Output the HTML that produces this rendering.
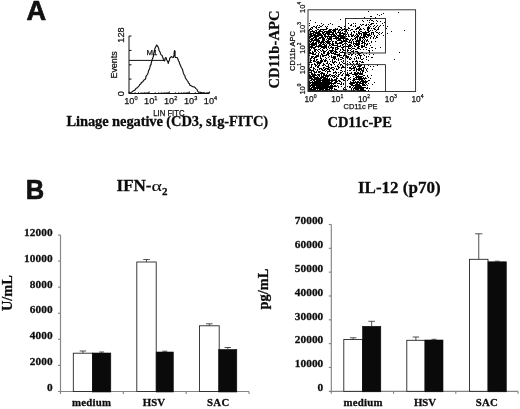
<!DOCTYPE html>
<html lang="en"><head><meta charset="utf-8"><title>Figure</title>
<style>html,body{margin:0;padding:0;background:#fff}body{width:520px;height:409px;overflow:hidden}svg{display:block}.s{font-family:"Liberation Serif",serif;font-weight:bold;fill:#0c0c0c;stroke:#0c0c0c;stroke-width:.28}.a{font-family:"Liberation Sans",sans-serif;fill:#111}.b{stroke:#111;stroke-width:.25}</style></head><body>
<svg width="520" height="409" viewBox="0 0 520 409">
<rect width="520" height="409" fill="#fff"/>
<text class="a" x="26.4" y="20.3" font-size="27.2" font-weight="bold" stroke="#111" stroke-width=".7">A</text>
<text class="a" transform="translate(25.7 199.1) scale(.9 1)" font-size="28.4" font-weight="bold" stroke="#111" stroke-width=".7">B</text>
<g stroke="#111" stroke-width="1" fill="none">
<path d="M129 36V93.5H209.3"/>
<path d="M129 36.0h2.5"/>
<path d="M129 50.4h2.5"/>
<path d="M129 64.8h2.5"/>
<path d="M129 79.1h2.5"/>
<path d="M129 93.5h2.5"/>
<path d="M129.0 93.5v-2"/>
<path d="M149.1 93.5v-2"/>
<path d="M169.2 93.5v-2"/>
<path d="M189.3 93.5v-2"/>
<path d="M209.4 93.5v-2"/>
<path d="M135.1 93.5v-1.5M138.6 93.5v-1.5M141.1 93.5v-1.5M143.0 93.5v-1.5M144.6 93.5v-1.5M146.0 93.5v-1.5M147.2 93.5v-1.5M148.2 93.5v-1.5M155.2 93.5v-1.5M158.7 93.5v-1.5M161.2 93.5v-1.5M163.1 93.5v-1.5M164.7 93.5v-1.5M166.1 93.5v-1.5M167.3 93.5v-1.5M168.3 93.5v-1.5M175.3 93.5v-1.5M178.8 93.5v-1.5M181.3 93.5v-1.5M183.2 93.5v-1.5M184.8 93.5v-1.5M186.2 93.5v-1.5M187.4 93.5v-1.5M188.4 93.5v-1.5M195.4 93.5v-1.5M198.9 93.5v-1.5M201.4 93.5v-1.5M203.3 93.5v-1.5M204.9 93.5v-1.5M206.3 93.5v-1.5M207.5 93.5v-1.5M208.5 93.5v-1.5" stroke-width=".7"/>
<path d="M129 60.4H164"/>
<path stroke-linejoin="round" stroke-width="1.15" d="M128.8 93.1 L129.7 92.8 L130.8 92.6 L131.9 92.1 L133.3 90.8 L134.5 90.4 L135.0 89.9 L136.1 88.3 L137.5 87.7 L138.0 86.9 L139.1 85.8 L139.8 84.4 L140.7 84.1 L141.4 82.6 L142.6 81.9 L143.9 80.1 L144.9 79.6 L145.7 78.4 L145.9 76.5 L146.6 75.7 L147.3 74.5 L147.6 73.9 L148.1 72.9 L148.4 71.3 L148.7 70.6 L149.2 69.6 L149.9 67.6 L150.1 67.0 L150.2 65.5 L151.1 64.5 L151.2 63.2 L151.5 62.0 L151.8 61.0 L152.1 59.7 L152.6 58.6 L153.0 57.3 L153.5 56.0 L153.5 54.0 L154.0 52.4 L154.4 51.9 L154.7 50.2 L154.8 48.8 L155.5 47.3 L156.1 46.4 L156.5 45.0 L157.2 45.6 L158.2 47.1 L158.9 49.1 L158.9 50.3 L159.6 51.4 L160.1 52.2 L160.6 54.0 L161.3 54.9 L162.1 55.5 L162.5 56.6 L163.0 58.0 L163.4 59.2 L164.2 60.6 L164.4 61.0 L164.9 60.3 L165.1 58.2 L165.7 57.5 L166.3 58.1 L166.6 59.7 L167.4 61.0 L167.9 61.9 L168.3 63.5 L168.3 62.7 L168.8 61.5 L169.6 59.5 L169.6 58.4 L170.5 57.5 L171.4 56.6 L172.5 57.2 L173.4 57.5 L173.7 56.2 L174.2 54.7 L174.1 53.6 L174.2 51.7 L174.7 50.6 L175.2 52.0 L175.0 52.8 L175.1 54.8 L175.0 56.2 L175.5 57.5 L176.9 57.5 L177.6 58.2 L178.1 59.8 L178.6 61.0 L179.2 61.9 L179.6 63.4 L179.6 63.7 L180.4 65.3 L181.1 66.9 L181.3 67.5 L182.1 68.7 L182.6 69.8 L182.9 71.1 L183.3 72.7 L183.8 73.9 L184.1 74.9 L184.9 75.6 L185.2 77.4 L185.6 78.3 L186.3 79.2 L187.3 80.8 L188.1 81.6 L188.4 82.9 L189.4 83.7 L189.9 85.2 L191.1 85.7 L192.5 86.6 L194.2 86.9 L195.3 87.7 L195.9 88.6 L197.0 89.4 L197.6 91.1 L198.5 92.1 L200.0 92.3 L200.6 92.3 L202.0 93.0 L203.5 92.7 L204.9 93.2"/>
</g>
<text class="a b" font-size="9.2" transform="translate(124.4 42.7) rotate(-90)">128</text>
<text class="a b" font-size="9.2" transform="translate(124.4 96.3) rotate(-90)">0</text>
<text class="a b" font-size="8.9" transform="translate(117.3 78.5) rotate(-90)">Events</text>
<text class="a b" font-size="7.8" x="146.4" y="55.2">M1</text>
<text class="a b" font-size="9.2" x="124.2" y="103.5">10<tspan font-size="5.6" dy="-3.9">0</tspan></text>
<text class="a b" font-size="9.2" x="144.1" y="103.5">10<tspan font-size="5.6" dy="-3.9">1</tspan></text>
<text class="a b" font-size="9.2" x="164.0" y="103.5">10<tspan font-size="5.6" dy="-3.9">2</tspan></text>
<text class="a b" font-size="9.2" x="183.9" y="103.5">10<tspan font-size="5.6" dy="-3.9">3</tspan></text>
<text class="a b" font-size="9.2" x="203.8" y="103.5">10<tspan font-size="5.6" dy="-3.9">4</tspan></text>
<text class="a b" font-size="8.4" x="153.2" y="115.6" textLength="31.4" lengthAdjust="spacingAndGlyphs">LIN FITC</text>
<text class="s" font-size="14.5" x="66.5" y="126.4" textLength="201.6" lengthAdjust="spacing">Linage negative (CD3, sIg-FITC)</text>
<filter id="bl" x="0" y="0" width="1" height="1" filterUnits="objectBoundingBox"><feGaussianBlur stdDeviation="0.5"/></filter>
<path d="M309 23.5h1M309 25.5h1M309 29.5h1M309 30.5h1M309 34.5h1M309 36.5h1M309 37.5h1M309 38.5h1M309 40.5h1M309 41.5h1M309 43.5h1M309 44.5h1M309 45.5h1M309 46.5h1M309 47.5h1M309 48.5h1M309 49.5h1M309 50.5h1M309 51.5h1M309 52.5h1M309 53.5h1M309 55.5h1M309 62.5h1M309 64.5h1M309 68.5h1M309 69.5h1M309 70.5h1M309 72.5h1M309 74.5h1M309 75.5h1M309 76.5h1M309 77.5h1M309 78.5h1M309 81.5h1M309 82.5h1M309 83.5h1M309 84.5h1M309 85.5h1M309 86.5h1M309 87.5h1M309 88.5h1M309 89.5h1M309 90.5h1M310 20.5h1M310 28.5h1M310 29.5h1M310 31.5h1M310 32.5h1M310 33.5h1M310 34.5h1M310 35.5h1M310 36.5h1M310 37.5h1M310 39.5h1M310 41.5h1M310 42.5h1M310 44.5h1M310 46.5h1M310 47.5h1M310 49.5h1M310 50.5h1M310 52.5h1M310 53.5h1M310 58.5h1M310 59.5h1M310 60.5h1M310 61.5h1M310 62.5h1M310 67.5h1M310 69.5h1M310 70.5h1M310 72.5h1M310 75.5h1M310 76.5h1M310 77.5h1M310 78.5h1M310 80.5h1M310 82.5h1M310 83.5h1M310 85.5h1M310 86.5h1M310 88.5h1M310 89.5h1M310 90.5h1M311 27.5h1M311 29.5h1M311 31.5h1M311 33.5h1M311 34.5h1M311 35.5h1M311 36.5h1M311 38.5h1M311 39.5h1M311 40.5h1M311 41.5h1M311 43.5h1M311 44.5h1M311 45.5h1M311 46.5h1M311 47.5h1M311 48.5h1M311 53.5h1M311 56.5h1M311 57.5h1M311 58.5h1M311 60.5h1M311 62.5h1M311 64.5h1M311 65.5h1M311 66.5h1M311 67.5h1M311 70.5h1M311 71.5h1M311 72.5h1M311 73.5h1M311 74.5h1M311 76.5h1M311 77.5h1M311 78.5h1M311 79.5h1M311 80.5h1M311 82.5h1M311 84.5h1M311 85.5h1M311 87.5h1M311 88.5h1M311 89.5h1M311 90.5h1M312 27.5h1M312 28.5h1M312 30.5h1M312 31.5h1M312 33.5h1M312 35.5h1M312 36.5h1M312 38.5h1M312 39.5h1M312 40.5h1M312 42.5h1M312 43.5h1M312 44.5h1M312 45.5h1M312 46.5h1M312 47.5h1M312 51.5h1M312 52.5h1M312 53.5h1M312 54.5h1M312 56.5h1M312 57.5h1M312 64.5h1M312 70.5h1M312 73.5h1M312 74.5h1M312 75.5h1M312 76.5h1M312 78.5h1M312 79.5h1M312 81.5h1M312 82.5h1M312 83.5h1M312 84.5h1M312 85.5h1M312 86.5h1M312 87.5h1M312 89.5h1M312 90.5h1M313 26.5h1M313 31.5h1M313 32.5h1M313 33.5h1M313 34.5h1M313 35.5h1M313 37.5h1M313 38.5h1M313 40.5h1M313 41.5h1M313 42.5h1M313 43.5h1M313 44.5h1M313 45.5h1M313 47.5h1M313 48.5h1M313 52.5h1M313 53.5h1M313 54.5h1M313 56.5h1M313 58.5h1M313 60.5h1M313 61.5h1M313 67.5h1M313 68.5h1M313 69.5h1M313 70.5h1M313 71.5h1M313 74.5h1M313 75.5h1M313 76.5h1M313 77.5h1M313 79.5h1M313 80.5h1M313 82.5h1M313 83.5h1M313 84.5h1M313 85.5h1M313 86.5h1M313 87.5h1M313 88.5h1M313 89.5h1M313 90.5h1M314 26.5h1M314 31.5h1M314 32.5h1M314 34.5h1M314 35.5h1M314 36.5h1M314 37.5h1M314 39.5h1M314 40.5h1M314 43.5h1M314 44.5h1M314 45.5h1M314 47.5h1M314 48.5h1M314 49.5h1M314 50.5h1M314 51.5h1M314 54.5h1M314 57.5h1M314 58.5h1M314 59.5h1M314 60.5h1M314 61.5h1M314 63.5h1M314 64.5h1M314 68.5h1M314 71.5h1M314 72.5h1M314 73.5h1M314 74.5h1M314 75.5h1M314 76.5h1M314 77.5h1M314 78.5h1M314 79.5h1M314 80.5h1M314 81.5h1M314 82.5h1M314 83.5h1M314 84.5h1M314 85.5h1M314 86.5h1M314 87.5h1M314 88.5h1M314 89.5h1M314 90.5h1M315 22.5h1M315 27.5h1M315 30.5h1M315 32.5h1M315 33.5h1M315 34.5h1M315 35.5h1M315 36.5h1M315 37.5h1M315 38.5h1M315 39.5h1M315 40.5h1M315 42.5h1M315 43.5h1M315 44.5h1M315 46.5h1M315 47.5h1M315 49.5h1M315 50.5h1M315 51.5h1M315 53.5h1M315 54.5h1M315 56.5h1M315 57.5h1M315 61.5h1M315 64.5h1M315 65.5h1M315 66.5h1M315 69.5h1M315 72.5h1M315 74.5h1M315 75.5h1M315 77.5h1M315 78.5h1M315 79.5h1M315 81.5h1M315 82.5h1M315 83.5h1M315 84.5h1M315 85.5h1M315 87.5h1M315 88.5h1M315 89.5h1M315 90.5h1M316 26.5h1M316 27.5h1M316 28.5h1M316 30.5h1M316 31.5h1M316 32.5h1M316 33.5h1M316 35.5h1M316 36.5h1M316 37.5h1M316 38.5h1M316 39.5h1M316 40.5h1M316 41.5h1M316 42.5h1M316 43.5h1M316 44.5h1M316 45.5h1M316 46.5h1M316 49.5h1M316 52.5h1M316 55.5h1M316 56.5h1M316 57.5h1M316 59.5h1M316 60.5h1M316 62.5h1M316 65.5h1M316 71.5h1M316 72.5h1M316 75.5h1M316 77.5h1M316 78.5h1M316 79.5h1M316 80.5h1M316 81.5h1M316 82.5h1M316 83.5h1M316 84.5h1M316 85.5h1M316 86.5h1M316 87.5h1M316 88.5h1M316 90.5h1M317 25.5h1M317 29.5h1M317 32.5h1M317 33.5h1M317 34.5h1M317 35.5h1M317 36.5h1M317 39.5h1M317 40.5h1M317 41.5h1M317 46.5h1M317 50.5h1M317 55.5h1M317 56.5h1M317 59.5h1M317 61.5h1M317 62.5h1M317 63.5h1M317 64.5h1M317 66.5h1M317 67.5h1M317 69.5h1M317 70.5h1M317 74.5h1M317 76.5h1M317 77.5h1M317 78.5h1M317 79.5h1M317 80.5h1M317 81.5h1M317 82.5h1M317 83.5h1M317 84.5h1M317 85.5h1M317 86.5h1M317 87.5h1M317 88.5h1M317 89.5h1M317 90.5h1M318 27.5h1M318 29.5h1M318 31.5h1M318 32.5h1M318 33.5h1M318 34.5h1M318 35.5h1M318 36.5h1M318 38.5h1M318 39.5h1M318 40.5h1M318 41.5h1M318 42.5h1M318 43.5h1M318 45.5h1M318 46.5h1M318 47.5h1M318 49.5h1M318 51.5h1M318 53.5h1M318 54.5h1M318 55.5h1M318 56.5h1M318 61.5h1M318 62.5h1M318 63.5h1M318 65.5h1M318 66.5h1M318 67.5h1M318 71.5h1M318 72.5h1M318 74.5h1M318 75.5h1M318 77.5h1M318 78.5h1M318 79.5h1M318 80.5h1M318 81.5h1M318 82.5h1M318 83.5h1M318 84.5h1M318 85.5h1M318 86.5h1M318 87.5h1M318 88.5h1M318 90.5h1M319 25.5h1M319 27.5h1M319 30.5h1M319 31.5h1M319 32.5h1M319 33.5h1M319 34.5h1M319 35.5h1M319 37.5h1M319 38.5h1M319 40.5h1M319 41.5h1M319 42.5h1M319 44.5h1M319 45.5h1M319 46.5h1M319 49.5h1M319 52.5h1M319 62.5h1M319 63.5h1M319 64.5h1M319 65.5h1M319 68.5h1M319 69.5h1M319 71.5h1M319 72.5h1M319 74.5h1M319 75.5h1M319 76.5h1M319 78.5h1M319 79.5h1M319 80.5h1M319 81.5h1M319 82.5h1M319 83.5h1M319 84.5h1M319 85.5h1M319 86.5h1M319 87.5h1M319 88.5h1M319 89.5h1M319 90.5h1M320 26.5h1M320 29.5h1M320 30.5h1M320 31.5h1M320 33.5h1M320 34.5h1M320 35.5h1M320 37.5h1M320 38.5h1M320 42.5h1M320 43.5h1M320 44.5h1M320 45.5h1M320 46.5h1M320 48.5h1M320 50.5h1M320 55.5h1M320 56.5h1M320 57.5h1M320 58.5h1M320 60.5h1M320 61.5h1M320 62.5h1M320 63.5h1M320 68.5h1M320 71.5h1M320 73.5h1M320 77.5h1M320 78.5h1M320 79.5h1M320 80.5h1M320 81.5h1M320 82.5h1M320 83.5h1M320 84.5h1M320 85.5h1M320 86.5h1M320 87.5h1M320 88.5h1M320 89.5h1M320 90.5h1M321 23.5h1M321 26.5h1M321 29.5h1M321 31.5h1M321 34.5h1M321 35.5h1M321 36.5h1M321 37.5h1M321 41.5h1M321 42.5h1M321 43.5h1M321 45.5h1M321 46.5h1M321 47.5h1M321 51.5h1M321 53.5h1M321 54.5h1M321 58.5h1M321 59.5h1M321 60.5h1M321 61.5h1M321 62.5h1M321 68.5h1M321 69.5h1M321 72.5h1M321 73.5h1M321 74.5h1M321 75.5h1M321 76.5h1M321 77.5h1M321 78.5h1M321 80.5h1M321 82.5h1M321 83.5h1M321 84.5h1M321 85.5h1M321 86.5h1M321 87.5h1M321 88.5h1M321 89.5h1M322 25.5h1M322 29.5h1M322 31.5h1M322 32.5h1M322 33.5h1M322 35.5h1M322 36.5h1M322 37.5h1M322 38.5h1M322 39.5h1M322 40.5h1M322 41.5h1M322 42.5h1M322 44.5h1M322 46.5h1M322 47.5h1M322 49.5h1M322 50.5h1M322 54.5h1M322 55.5h1M322 56.5h1M322 60.5h1M322 61.5h1M322 65.5h1M322 69.5h1M322 70.5h1M322 72.5h1M322 73.5h1M322 76.5h1M322 77.5h1M322 79.5h1M322 80.5h1M322 81.5h1M322 82.5h1M322 83.5h1M322 84.5h1M322 85.5h1M322 86.5h1M322 87.5h1M322 88.5h1M322 89.5h1M322 90.5h1M323 24.5h1M323 29.5h1M323 30.5h1M323 32.5h1M323 33.5h1M323 34.5h1M323 37.5h1M323 38.5h1M323 39.5h1M323 40.5h1M323 41.5h1M323 42.5h1M323 43.5h1M323 44.5h1M323 46.5h1M323 47.5h1M323 48.5h1M323 50.5h1M323 51.5h1M323 52.5h1M323 53.5h1M323 55.5h1M323 56.5h1M323 59.5h1M323 63.5h1M323 64.5h1M323 65.5h1M323 67.5h1M323 68.5h1M323 70.5h1M323 73.5h1M323 74.5h1M323 75.5h1M323 76.5h1M323 77.5h1M323 78.5h1M323 79.5h1M323 80.5h1M323 81.5h1M323 82.5h1M323 83.5h1M323 84.5h1M323 85.5h1M323 86.5h1M323 87.5h1M323 88.5h1M323 89.5h1M323 90.5h1M324 29.5h1M324 31.5h1M324 32.5h1M324 34.5h1M324 35.5h1M324 36.5h1M324 38.5h1M324 39.5h1M324 40.5h1M324 42.5h1M324 44.5h1M324 45.5h1M324 46.5h1M324 47.5h1M324 48.5h1M324 51.5h1M324 52.5h1M324 53.5h1M324 55.5h1M324 60.5h1M324 61.5h1M324 64.5h1M324 67.5h1M324 69.5h1M324 70.5h1M324 73.5h1M324 74.5h1M324 75.5h1M324 77.5h1M324 78.5h1M324 79.5h1M324 80.5h1M324 81.5h1M324 82.5h1M324 83.5h1M324 84.5h1M324 85.5h1M324 86.5h1M324 87.5h1M324 88.5h1M324 90.5h1M325 26.5h1M325 29.5h1M325 31.5h1M325 33.5h1M325 34.5h1M325 35.5h1M325 36.5h1M325 37.5h1M325 41.5h1M325 43.5h1M325 45.5h1M325 46.5h1M325 47.5h1M325 51.5h1M325 55.5h1M325 57.5h1M325 59.5h1M325 60.5h1M325 61.5h1M325 65.5h1M325 68.5h1M325 69.5h1M325 71.5h1M325 75.5h1M325 76.5h1M325 77.5h1M325 78.5h1M325 79.5h1M325 80.5h1M325 81.5h1M325 82.5h1M325 83.5h1M325 84.5h1M325 85.5h1M325 86.5h1M325 87.5h1M325 88.5h1M325 89.5h1M325 90.5h1M326 27.5h1M326 28.5h1M326 29.5h1M326 31.5h1M326 32.5h1M326 33.5h1M326 36.5h1M326 39.5h1M326 41.5h1M326 42.5h1M326 44.5h1M326 45.5h1M326 46.5h1M326 47.5h1M326 48.5h1M326 50.5h1M326 54.5h1M326 55.5h1M326 58.5h1M326 60.5h1M326 63.5h1M326 66.5h1M326 68.5h1M326 70.5h1M326 74.5h1M326 75.5h1M326 76.5h1M326 78.5h1M326 79.5h1M326 80.5h1M326 81.5h1M326 82.5h1M326 83.5h1M326 84.5h1M326 85.5h1M326 86.5h1M326 87.5h1M326 88.5h1M326 89.5h1M326 90.5h1M327 26.5h1M327 28.5h1M327 31.5h1M327 32.5h1M327 33.5h1M327 34.5h1M327 36.5h1M327 37.5h1M327 38.5h1M327 40.5h1M327 41.5h1M327 42.5h1M327 43.5h1M327 49.5h1M327 52.5h1M327 53.5h1M327 54.5h1M327 61.5h1M327 62.5h1M327 63.5h1M327 66.5h1M327 68.5h1M327 69.5h1M327 71.5h1M327 72.5h1M327 73.5h1M327 75.5h1M327 76.5h1M327 77.5h1M327 78.5h1M327 79.5h1M327 80.5h1M327 81.5h1M327 82.5h1M327 83.5h1M327 84.5h1M327 85.5h1M327 86.5h1M327 87.5h1M327 88.5h1M327 89.5h1M327 90.5h1M328 24.5h1M328 30.5h1M328 31.5h1M328 32.5h1M328 33.5h1M328 34.5h1M328 35.5h1M328 36.5h1M328 38.5h1M328 39.5h1M328 40.5h1M328 41.5h1M328 42.5h1M328 43.5h1M328 46.5h1M328 47.5h1M328 51.5h1M328 52.5h1M328 53.5h1M328 54.5h1M328 55.5h1M328 57.5h1M328 64.5h1M328 65.5h1M328 66.5h1M328 67.5h1M328 68.5h1M328 69.5h1M328 71.5h1M328 75.5h1M328 76.5h1M328 79.5h1M328 80.5h1M328 81.5h1M328 82.5h1M328 83.5h1M328 84.5h1M328 85.5h1M328 86.5h1M328 87.5h1M328 89.5h1M329 29.5h1M329 30.5h1M329 31.5h1M329 32.5h1M329 33.5h1M329 34.5h1M329 36.5h1M329 37.5h1M329 38.5h1M329 39.5h1M329 41.5h1M329 42.5h1M329 43.5h1M329 44.5h1M329 45.5h1M329 48.5h1M329 50.5h1M329 53.5h1M329 56.5h1M329 59.5h1M329 63.5h1M329 67.5h1M329 69.5h1M329 70.5h1M329 71.5h1M329 74.5h1M329 75.5h1M329 78.5h1M329 79.5h1M329 80.5h1M329 81.5h1M329 82.5h1M329 83.5h1M329 84.5h1M329 86.5h1M329 87.5h1M329 88.5h1M329 89.5h1M329 90.5h1M330 23.5h1M330 29.5h1M330 30.5h1M330 31.5h1M330 32.5h1M330 34.5h1M330 36.5h1M330 37.5h1M330 38.5h1M330 39.5h1M330 41.5h1M330 43.5h1M330 45.5h1M330 47.5h1M330 50.5h1M330 51.5h1M330 52.5h1M330 61.5h1M330 64.5h1M330 68.5h1M330 71.5h1M330 74.5h1M330 76.5h1M330 80.5h1M330 82.5h1M330 83.5h1M330 85.5h1M330 86.5h1M330 87.5h1M330 88.5h1M330 90.5h1M331 29.5h1M331 31.5h1M331 32.5h1M331 34.5h1M331 35.5h1M331 36.5h1M331 37.5h1M331 38.5h1M331 39.5h1M331 40.5h1M331 44.5h1M331 46.5h1M331 47.5h1M331 50.5h1M331 51.5h1M331 52.5h1M331 53.5h1M331 55.5h1M331 56.5h1M331 57.5h1M331 64.5h1M331 65.5h1M331 67.5h1M331 68.5h1M331 75.5h1M331 78.5h1M331 79.5h1M331 80.5h1M331 81.5h1M331 82.5h1M331 83.5h1M331 84.5h1M331 85.5h1M331 86.5h1M331 87.5h1M331 88.5h1M331 89.5h1M331 90.5h1M332 24.5h1M332 30.5h1M332 32.5h1M332 33.5h1M332 34.5h1M332 36.5h1M332 41.5h1M332 42.5h1M332 43.5h1M332 44.5h1M332 45.5h1M332 47.5h1M332 48.5h1M332 49.5h1M332 50.5h1M332 51.5h1M332 53.5h1M332 57.5h1M332 59.5h1M332 60.5h1M332 61.5h1M332 62.5h1M332 67.5h1M332 69.5h1M332 75.5h1M332 76.5h1M332 79.5h1M332 80.5h1M332 81.5h1M332 83.5h1M332 85.5h1M332 86.5h1M332 87.5h1M332 88.5h1M332 90.5h1M333 29.5h1M333 30.5h1M333 31.5h1M333 32.5h1M333 33.5h1M333 34.5h1M333 35.5h1M333 36.5h1M333 38.5h1M333 41.5h1M333 43.5h1M333 44.5h1M333 45.5h1M333 47.5h1M333 48.5h1M333 50.5h1M333 52.5h1M333 53.5h1M333 56.5h1M333 57.5h1M333 58.5h1M333 62.5h1M333 63.5h1M333 67.5h1M333 69.5h1M333 70.5h1M333 72.5h1M333 73.5h1M333 75.5h1M333 77.5h1M333 80.5h1M333 83.5h1M333 84.5h1M333 86.5h1M334 29.5h1M334 30.5h1M334 31.5h1M334 34.5h1M334 35.5h1M334 36.5h1M334 38.5h1M334 45.5h1M334 51.5h1M334 53.5h1M334 54.5h1M334 56.5h1M334 57.5h1M334 58.5h1M334 59.5h1M334 61.5h1M334 62.5h1M334 64.5h1M334 68.5h1M334 72.5h1M334 75.5h1M334 76.5h1M334 77.5h1M334 79.5h1M334 80.5h1M334 82.5h1M334 83.5h1M334 85.5h1M334 86.5h1M334 88.5h1M334 89.5h1M335 28.5h1M335 29.5h1M335 30.5h1M335 31.5h1M335 32.5h1M335 33.5h1M335 35.5h1M335 36.5h1M335 37.5h1M335 38.5h1M335 41.5h1M335 42.5h1M335 43.5h1M335 45.5h1M335 47.5h1M335 48.5h1M335 49.5h1M335 50.5h1M335 51.5h1M335 52.5h1M335 53.5h1M335 54.5h1M335 56.5h1M335 57.5h1M335 58.5h1M335 61.5h1M335 66.5h1M335 71.5h1M335 72.5h1M335 74.5h1M335 76.5h1M335 79.5h1M335 80.5h1M335 81.5h1M335 82.5h1M335 83.5h1M335 85.5h1M335 86.5h1M335 89.5h1M336 29.5h1M336 33.5h1M336 34.5h1M336 36.5h1M336 37.5h1M336 38.5h1M336 39.5h1M336 41.5h1M336 42.5h1M336 43.5h1M336 45.5h1M336 47.5h1M336 49.5h1M336 51.5h1M336 52.5h1M336 54.5h1M336 59.5h1M336 62.5h1M336 68.5h1M336 69.5h1M336 72.5h1M336 73.5h1M336 75.5h1M336 77.5h1M336 78.5h1M336 79.5h1M336 80.5h1M336 81.5h1M336 82.5h1M336 86.5h1M336 89.5h1M337 28.5h1M337 29.5h1M337 32.5h1M337 35.5h1M337 37.5h1M337 38.5h1M337 40.5h1M337 43.5h1M337 44.5h1M337 45.5h1M337 46.5h1M337 47.5h1M337 48.5h1M337 49.5h1M337 52.5h1M337 54.5h1M337 55.5h1M337 56.5h1M337 65.5h1M337 66.5h1M337 69.5h1M337 76.5h1M337 78.5h1M337 81.5h1M337 83.5h1M337 85.5h1M337 90.5h1M338 26.5h1M338 30.5h1M338 31.5h1M338 32.5h1M338 35.5h1M338 36.5h1M338 37.5h1M338 38.5h1M338 39.5h1M338 40.5h1M338 43.5h1M338 46.5h1M338 48.5h1M338 54.5h1M338 55.5h1M338 58.5h1M338 59.5h1M338 60.5h1M338 64.5h1M338 66.5h1M338 67.5h1M338 68.5h1M338 72.5h1M338 74.5h1M338 75.5h1M338 76.5h1M338 80.5h1M338 83.5h1M338 86.5h1M338 87.5h1M339 26.5h1M339 29.5h1M339 30.5h1M339 32.5h1M339 33.5h1M339 34.5h1M339 35.5h1M339 36.5h1M339 38.5h1M339 39.5h1M339 40.5h1M339 42.5h1M339 43.5h1M339 46.5h1M339 51.5h1M339 53.5h1M339 54.5h1M339 55.5h1M339 56.5h1M339 62.5h1M339 63.5h1M339 67.5h1M339 74.5h1M339 80.5h1M339 81.5h1M339 83.5h1M340 19.5h1M340 27.5h1M340 29.5h1M340 31.5h1M340 32.5h1M340 33.5h1M340 34.5h1M340 35.5h1M340 36.5h1M340 37.5h1M340 38.5h1M340 39.5h1M340 40.5h1M340 42.5h1M340 43.5h1M340 45.5h1M340 46.5h1M340 49.5h1M340 50.5h1M340 52.5h1M340 55.5h1M340 57.5h1M340 59.5h1M340 64.5h1M340 65.5h1M340 70.5h1M340 72.5h1M340 73.5h1M340 78.5h1M340 81.5h1M340 84.5h1M341 27.5h1M341 28.5h1M341 30.5h1M341 33.5h1M341 35.5h1M341 36.5h1M341 37.5h1M341 38.5h1M341 40.5h1M341 41.5h1M341 42.5h1M341 43.5h1M341 47.5h1M341 52.5h1M341 55.5h1M341 57.5h1M341 59.5h1M341 61.5h1M341 64.5h1M341 67.5h1M341 68.5h1M341 70.5h1M341 72.5h1M341 75.5h1M341 78.5h1M341 79.5h1M341 82.5h1M341 83.5h1M341 84.5h1M341 86.5h1M342 29.5h1M342 30.5h1M342 32.5h1M342 33.5h1M342 35.5h1M342 36.5h1M342 37.5h1M342 38.5h1M342 41.5h1M342 42.5h1M342 44.5h1M342 45.5h1M342 47.5h1M342 48.5h1M342 49.5h1M342 51.5h1M342 52.5h1M342 57.5h1M342 58.5h1M342 62.5h1M342 65.5h1M342 66.5h1M342 67.5h1M342 71.5h1M342 74.5h1M342 75.5h1M342 79.5h1M343 29.5h1M343 33.5h1M343 34.5h1M343 35.5h1M343 36.5h1M343 37.5h1M343 38.5h1M343 39.5h1M343 40.5h1M343 41.5h1M343 44.5h1M343 46.5h1M343 47.5h1M343 49.5h1M343 50.5h1M343 52.5h1M343 55.5h1M343 56.5h1M343 58.5h1M343 60.5h1M343 61.5h1M343 63.5h1M343 66.5h1M343 67.5h1M343 73.5h1M343 79.5h1M343 80.5h1M343 83.5h1M343 84.5h1M343 88.5h1M343 89.5h1M344 26.5h1M344 28.5h1M344 29.5h1M344 31.5h1M344 33.5h1M344 34.5h1M344 36.5h1M344 37.5h1M344 38.5h1M344 40.5h1M344 41.5h1M344 43.5h1M344 46.5h1M344 50.5h1M344 52.5h1M344 53.5h1M344 54.5h1M344 55.5h1M344 63.5h1M344 67.5h1M344 71.5h1M344 77.5h1M344 78.5h1M344 80.5h1M344 87.5h1M344 89.5h1M345 25.5h1M345 29.5h1M345 30.5h1M345 31.5h1M345 32.5h1M345 35.5h1M345 39.5h1M345 40.5h1M345 41.5h1M345 42.5h1M345 44.5h1M345 45.5h1M345 47.5h1M345 50.5h1M345 55.5h1M345 62.5h1M345 67.5h1M345 69.5h1M345 73.5h1M345 74.5h1M345 77.5h1M345 78.5h1M345 79.5h1M346 29.5h1M346 30.5h1M346 31.5h1M346 34.5h1M346 36.5h1M346 38.5h1M346 39.5h1M346 40.5h1M346 41.5h1M346 43.5h1M346 46.5h1M346 55.5h1M346 56.5h1M346 57.5h1M346 74.5h1M346 75.5h1M346 89.5h1M347 29.5h1M347 32.5h1M347 33.5h1M347 38.5h1M347 39.5h1M347 41.5h1M347 44.5h1M347 46.5h1M347 49.5h1M347 50.5h1M347 51.5h1M347 56.5h1M347 57.5h1M347 58.5h1M347 61.5h1M347 63.5h1M347 65.5h1M347 67.5h1M347 70.5h1M347 72.5h1M347 73.5h1M347 74.5h1M347 75.5h1M347 80.5h1M347 86.5h1M348 23.5h1M348 27.5h1M348 28.5h1M348 30.5h1M348 34.5h1M348 35.5h1M348 36.5h1M348 39.5h1M348 42.5h1M348 45.5h1M348 46.5h1M348 47.5h1M348 48.5h1M348 50.5h1M348 52.5h1M348 54.5h1M348 56.5h1M348 57.5h1M348 74.5h1M348 75.5h1M348 76.5h1M348 78.5h1M348 79.5h1M349 28.5h1M349 36.5h1M349 40.5h1M349 41.5h1M349 42.5h1M349 44.5h1M349 45.5h1M349 46.5h1M349 48.5h1M349 52.5h1M349 54.5h1M349 58.5h1M349 59.5h1M349 62.5h1M349 67.5h1M349 68.5h1M349 70.5h1M349 73.5h1M349 75.5h1M349 78.5h1M349 83.5h1M349 86.5h1M349 87.5h1M350 25.5h1M350 30.5h1M350 34.5h1M350 39.5h1M350 40.5h1M350 42.5h1M350 44.5h1M350 45.5h1M350 46.5h1M350 48.5h1M350 50.5h1M350 52.5h1M350 53.5h1M350 57.5h1M350 59.5h1M350 63.5h1M350 64.5h1M350 67.5h1M350 68.5h1M350 70.5h1M350 73.5h1M350 77.5h1M350 79.5h1M350 81.5h1M350 82.5h1M350 83.5h1M350 84.5h1M350 86.5h1M350 87.5h1M351 24.5h1M351 25.5h1M351 29.5h1M351 32.5h1M351 33.5h1M351 34.5h1M351 35.5h1M351 36.5h1M351 38.5h1M351 41.5h1M351 42.5h1M351 43.5h1M351 45.5h1M351 47.5h1M351 49.5h1M351 51.5h1M351 54.5h1M351 55.5h1M351 58.5h1M351 64.5h1M351 66.5h1M351 68.5h1M351 69.5h1M351 72.5h1M351 73.5h1M351 82.5h1M351 83.5h1M351 84.5h1M351 85.5h1M351 88.5h1M351 89.5h1M351 90.5h1M352 29.5h1M352 35.5h1M352 36.5h1M352 39.5h1M352 40.5h1M352 46.5h1M352 48.5h1M352 51.5h1M352 54.5h1M352 61.5h1M352 62.5h1M352 65.5h1M352 68.5h1M352 74.5h1M352 80.5h1M352 82.5h1M352 83.5h1M352 84.5h1M352 85.5h1M352 87.5h1M353 23.5h1M353 26.5h1M353 31.5h1M353 34.5h1M353 35.5h1M353 39.5h1M353 41.5h1M353 42.5h1M353 43.5h1M353 44.5h1M353 48.5h1M353 50.5h1M353 51.5h1M353 52.5h1M353 53.5h1M353 61.5h1M353 63.5h1M353 66.5h1M353 67.5h1M353 68.5h1M353 70.5h1M353 74.5h1M353 76.5h1M353 78.5h1M353 79.5h1M353 80.5h1M353 81.5h1M353 82.5h1M353 83.5h1M353 85.5h1M353 86.5h1M353 88.5h1M353 89.5h1M353 90.5h1M354 31.5h1M354 32.5h1M354 36.5h1M354 38.5h1M354 43.5h1M354 45.5h1M354 46.5h1M354 48.5h1M354 58.5h1M354 59.5h1M354 65.5h1M354 67.5h1M354 68.5h1M354 69.5h1M354 70.5h1M354 72.5h1M354 73.5h1M354 74.5h1M354 78.5h1M354 79.5h1M354 80.5h1M354 82.5h1M354 83.5h1M354 85.5h1M354 87.5h1M354 88.5h1M354 90.5h1M355 18.5h1M355 23.5h1M355 25.5h1M355 26.5h1M355 29.5h1M355 35.5h1M355 37.5h1M355 38.5h1M355 39.5h1M355 41.5h1M355 43.5h1M355 44.5h1M355 46.5h1M355 49.5h1M355 51.5h1M355 54.5h1M355 56.5h1M355 61.5h1M355 66.5h1M355 67.5h1M355 72.5h1M355 73.5h1M355 74.5h1M355 75.5h1M355 77.5h1M355 79.5h1M355 81.5h1M355 82.5h1M355 84.5h1M355 85.5h1M355 86.5h1M355 87.5h1M355 88.5h1M355 89.5h1M356 28.5h1M356 29.5h1M356 31.5h1M356 33.5h1M356 34.5h1M356 36.5h1M356 37.5h1M356 40.5h1M356 41.5h1M356 42.5h1M356 43.5h1M356 44.5h1M356 45.5h1M356 49.5h1M356 51.5h1M356 57.5h1M356 58.5h1M356 60.5h1M356 61.5h1M356 63.5h1M356 64.5h1M356 68.5h1M356 69.5h1M356 70.5h1M356 71.5h1M356 73.5h1M356 74.5h1M356 75.5h1M356 76.5h1M356 77.5h1M356 78.5h1M356 79.5h1M356 82.5h1M356 83.5h1M356 84.5h1M356 85.5h1M356 86.5h1M356 87.5h1M356 88.5h1M356 89.5h1M357 27.5h1M357 28.5h1M357 34.5h1M357 35.5h1M357 36.5h1M357 37.5h1M357 38.5h1M357 39.5h1M357 40.5h1M357 41.5h1M357 43.5h1M357 44.5h1M357 45.5h1M357 47.5h1M357 48.5h1M357 51.5h1M357 52.5h1M357 53.5h1M357 55.5h1M357 61.5h1M357 62.5h1M357 63.5h1M357 64.5h1M357 66.5h1M357 69.5h1M357 72.5h1M357 73.5h1M357 74.5h1M357 76.5h1M357 77.5h1M357 79.5h1M357 81.5h1M357 82.5h1M357 83.5h1M357 84.5h1M357 85.5h1M357 86.5h1M357 87.5h1M357 88.5h1M357 89.5h1M357 90.5h1M358 27.5h1M358 28.5h1M358 31.5h1M358 32.5h1M358 33.5h1M358 35.5h1M358 36.5h1M358 40.5h1M358 41.5h1M358 42.5h1M358 43.5h1M358 44.5h1M358 45.5h1M358 46.5h1M358 47.5h1M358 48.5h1M358 52.5h1M358 53.5h1M358 54.5h1M358 57.5h1M358 58.5h1M358 64.5h1M358 65.5h1M358 66.5h1M358 68.5h1M358 69.5h1M358 70.5h1M358 72.5h1M358 73.5h1M358 75.5h1M358 76.5h1M358 77.5h1M358 78.5h1M358 79.5h1M358 81.5h1M358 82.5h1M358 84.5h1M358 85.5h1M358 86.5h1M358 87.5h1M358 88.5h1M358 89.5h1M358 90.5h1M359 26.5h1M359 27.5h1M359 29.5h1M359 30.5h1M359 32.5h1M359 33.5h1M359 34.5h1M359 37.5h1M359 38.5h1M359 39.5h1M359 40.5h1M359 41.5h1M359 42.5h1M359 43.5h1M359 44.5h1M359 46.5h1M359 48.5h1M359 53.5h1M359 54.5h1M359 55.5h1M359 61.5h1M359 63.5h1M359 65.5h1M359 66.5h1M359 67.5h1M359 68.5h1M359 69.5h1M359 70.5h1M359 73.5h1M359 74.5h1M359 76.5h1M359 77.5h1M359 78.5h1M359 79.5h1M359 80.5h1M359 82.5h1M359 83.5h1M359 84.5h1M359 85.5h1M359 86.5h1M359 87.5h1M359 88.5h1M359 90.5h1M360 24.5h1M360 28.5h1M360 29.5h1M360 31.5h1M360 33.5h1M360 36.5h1M360 37.5h1M360 38.5h1M360 39.5h1M360 40.5h1M360 49.5h1M360 53.5h1M360 55.5h1M360 56.5h1M360 57.5h1M360 58.5h1M360 61.5h1M360 65.5h1M360 66.5h1M360 68.5h1M360 69.5h1M360 71.5h1M360 72.5h1M360 73.5h1M360 74.5h1M360 76.5h1M360 77.5h1M360 78.5h1M360 79.5h1M360 81.5h1M360 82.5h1M360 83.5h1M360 85.5h1M360 86.5h1M360 87.5h1M360 88.5h1M360 89.5h1M360 90.5h1M361 25.5h1M361 29.5h1M361 31.5h1M361 33.5h1M361 34.5h1M361 35.5h1M361 37.5h1M361 41.5h1M361 43.5h1M361 45.5h1M361 46.5h1M361 47.5h1M361 52.5h1M361 55.5h1M361 59.5h1M361 62.5h1M361 64.5h1M361 65.5h1M361 68.5h1M361 69.5h1M361 70.5h1M361 73.5h1M361 74.5h1M361 76.5h1M361 77.5h1M361 78.5h1M361 79.5h1M361 80.5h1M361 81.5h1M361 83.5h1M361 86.5h1M361 87.5h1M361 88.5h1M361 89.5h1M361 90.5h1M362 20.5h1M362 24.5h1M362 32.5h1M362 37.5h1M362 38.5h1M362 40.5h1M362 41.5h1M362 42.5h1M362 43.5h1M362 45.5h1M362 46.5h1M362 47.5h1M362 52.5h1M362 59.5h1M362 61.5h1M362 62.5h1M362 67.5h1M362 70.5h1M362 71.5h1M362 72.5h1M362 73.5h1M362 74.5h1M362 76.5h1M362 78.5h1M362 79.5h1M362 80.5h1M362 81.5h1M362 82.5h1M362 83.5h1M362 84.5h1M362 85.5h1M362 87.5h1M362 88.5h1M362 89.5h1M362 90.5h1M363 21.5h1M363 24.5h1M363 28.5h1M363 32.5h1M363 33.5h1M363 34.5h1M363 35.5h1M363 36.5h1M363 37.5h1M363 39.5h1M363 42.5h1M363 46.5h1M363 49.5h1M363 54.5h1M363 58.5h1M363 62.5h1M363 64.5h1M363 67.5h1M363 68.5h1M363 69.5h1M363 70.5h1M363 71.5h1M363 75.5h1M363 77.5h1M363 78.5h1M363 80.5h1M363 81.5h1M363 82.5h1M363 83.5h1M363 84.5h1M363 85.5h1M363 87.5h1M363 88.5h1M363 89.5h1M363 90.5h1M364 17.5h1M364 29.5h1M364 32.5h1M364 33.5h1M364 34.5h1M364 35.5h1M364 36.5h1M364 37.5h1M364 38.5h1M364 40.5h1M364 41.5h1M364 42.5h1M364 43.5h1M364 44.5h1M364 45.5h1M364 46.5h1M364 55.5h1M364 65.5h1M364 66.5h1M364 67.5h1M364 75.5h1M364 78.5h1M364 79.5h1M364 81.5h1M364 82.5h1M364 84.5h1M364 85.5h1M364 87.5h1M364 90.5h1M365 25.5h1M365 31.5h1M365 32.5h1M365 33.5h1M365 34.5h1M365 35.5h1M365 36.5h1M365 39.5h1M365 43.5h1M365 47.5h1M365 68.5h1M365 72.5h1M365 77.5h1M365 78.5h1M365 80.5h1M365 81.5h1M365 82.5h1M365 83.5h1M365 85.5h1M365 87.5h1M365 90.5h1M366 24.5h1M366 25.5h1M366 32.5h1M366 33.5h1M366 34.5h1M366 36.5h1M366 37.5h1M366 40.5h1M366 41.5h1M366 44.5h1M366 45.5h1M366 47.5h1M366 49.5h1M366 53.5h1M366 56.5h1M366 57.5h1M366 59.5h1M366 69.5h1M366 70.5h1M366 78.5h1M366 81.5h1M366 82.5h1M366 84.5h1M366 88.5h1M367 20.5h1M367 27.5h1M367 28.5h1M367 29.5h1M367 30.5h1M367 32.5h1M367 34.5h1M367 35.5h1M367 37.5h1M367 39.5h1M367 40.5h1M367 43.5h1M367 44.5h1M367 64.5h1M367 68.5h1M367 71.5h1M367 75.5h1M367 76.5h1M367 81.5h1M367 85.5h1M367 87.5h1M367 88.5h1M368 11.5h1M368 24.5h1M368 26.5h1M368 27.5h1M368 28.5h1M368 29.5h1M368 30.5h1M368 31.5h1M368 32.5h1M368 34.5h1M368 35.5h1M368 36.5h1M368 41.5h1M368 50.5h1M368 56.5h1M368 60.5h1M368 65.5h1M368 77.5h1M368 80.5h1M368 83.5h1M368 90.5h1M369 20.5h1M369 22.5h1M369 25.5h1M369 27.5h1M369 28.5h1M369 31.5h1M369 33.5h1M369 34.5h1M369 35.5h1M369 43.5h1M369 48.5h1M369 50.5h1M369 51.5h1M369 52.5h1M369 54.5h1M369 80.5h1M369 88.5h1M370 16.5h1M370 18.5h1M370 19.5h1M370 24.5h1M370 26.5h1M370 30.5h1M370 35.5h1M370 37.5h1M370 38.5h1M370 45.5h1M370 66.5h1M370 78.5h1M371 16.5h1M371 20.5h1M371 23.5h1M371 24.5h1M371 28.5h1M371 32.5h1M371 33.5h1M371 34.5h1M371 36.5h1M371 41.5h1M371 42.5h1M371 47.5h1M371 57.5h1M371 75.5h1M372 20.5h1M372 23.5h1M372 30.5h1M372 32.5h1M372 47.5h1M372 50.5h1M372 57.5h1M372 69.5h1M372 84.5h1M373 18.5h1M373 21.5h1M373 23.5h1M373 26.5h1M373 28.5h1M373 32.5h1M373 33.5h1M373 34.5h1M373 37.5h1M373 38.5h1M373 54.5h1M373 66.5h1M374 25.5h1M374 28.5h1M374 29.5h1M374 35.5h1M374 36.5h1M374 82.5h1M375 17.5h1M375 18.5h1M375 27.5h1M375 29.5h1M375 31.5h1M375 38.5h1M375 41.5h1M375 48.5h1M376 20.5h1M376 23.5h1M376 26.5h1M376 30.5h1M376 32.5h1M376 36.5h1M376 37.5h1M377 14.5h1M377 21.5h1M377 25.5h1M377 29.5h1M377 32.5h1M377 35.5h1M377 37.5h1M377 65.5h1M378 27.5h1M378 28.5h1M378 29.5h1M378 33.5h1M379 15.5h1M379 26.5h1M379 32.5h1M379 34.5h1M380 21.5h1M380 25.5h1M380 47.5h1M381 14.5h1M381 33.5h1M382 23.5h1M382 32.5h1M383 13.5h1M383 25.5h1M383 35.5h1M384 22.5h1M385 44.5h1M386 28.5h1M387 26.5h1M387 33.5h1M391 31.5h1M394 59.5h1M398 12.5h1M399 52.5h1M404 30.5h1" stroke="#000" stroke-width="1" fill="none" filter="url(#bl)"/>
<g stroke="#222" stroke-width=".9" fill="none">
<rect x="308" y="9.8" width="107.60000000000002" height="81.7"/>
<path d="M308.7 30V91.5" stroke-width="1.6"/>
<path d="M308 91.1H360" stroke-width="1.5"/>
<rect x="345.5" y="18.5" width="40" height="34.5"/>
<path d="M345.5 53V91.5M345.5 64.6H385.5V91.5"/>
</g>
<text class="a b" font-size="8.3" x="304.5" y="101.5">10<tspan font-size="5.1" dy="-3.5">0</tspan></text>
<text class="a b" font-size="7.6" transform="translate(304.7 94.6) rotate(-90)">10<tspan font-size="4.8" dy="-3.3">0</tspan></text>
<text class="a b" font-size="8.3" x="331.2" y="101.5">10<tspan font-size="5.1" dy="-3.5">1</tspan></text>
<text class="a b" font-size="7.6" transform="translate(304.7 74.2) rotate(-90)">10<tspan font-size="4.8" dy="-3.3">1</tspan></text>
<text class="a b" font-size="8.3" x="358.0" y="101.5">10<tspan font-size="5.1" dy="-3.5">2</tspan></text>
<text class="a b" font-size="7.6" transform="translate(304.7 53.8) rotate(-90)">10<tspan font-size="4.8" dy="-3.3">2</tspan></text>
<text class="a b" font-size="8.3" x="384.8" y="101.5">10<tspan font-size="5.1" dy="-3.5">3</tspan></text>
<text class="a b" font-size="7.6" transform="translate(304.7 33.3) rotate(-90)">10<tspan font-size="4.8" dy="-3.3">3</tspan></text>
<text class="a b" font-size="8.3" x="411.5" y="101.5">10<tspan font-size="5.1" dy="-3.5">4</tspan></text>
<text class="a b" font-size="7.6" transform="translate(304.7 12.9) rotate(-90)">10<tspan font-size="4.8" dy="-3.3">4</tspan></text>
<text class="a b" font-size="7.4" x="343.6" y="109.4">CD11c PE</text>
<text class="a b" font-size="7.5" transform="translate(294.6 70.9) rotate(-90)">CD11b APC</text>
<text class="s" font-size="14.5" transform="translate(279 88.6) rotate(-90)" textLength="78" lengthAdjust="spacing">CD11b-APC</text>
<text class="s" font-size="14.5" x="327.4" y="127" textLength="64.5" lengthAdjust="spacing">CD11c-PE</text>
<g stroke="#858585" stroke-width="1.15" fill="none">
<path d="M60.5 235V394.0M58.0 391.5H249"/>
<path d="M58.0 365.42h2.5"/>
<path d="M58.0 339.33h2.5"/>
<path d="M58.0 313.25h2.5"/>
<path d="M58.0 287.17h2.5"/>
<path d="M58.0 261.08h2.5"/>
<path d="M58.0 235.00h2.5"/>
<path d="M123.33 391.5v2.5"/>
<path d="M186.17 391.5v2.5"/>
<path d="M249.00 391.5v2.5"/>
</g>
<text class="s" font-size="11.3" letter-spacing=".05" text-anchor="end" x="52.6" y="391.2">0</text>
<text class="s" font-size="11.3" letter-spacing=".05" text-anchor="end" x="52.6" y="365.3">2000</text>
<text class="s" font-size="11.3" letter-spacing=".05" text-anchor="end" x="52.6" y="339.4">4000</text>
<text class="s" font-size="11.3" letter-spacing=".05" text-anchor="end" x="52.6" y="313.4">6000</text>
<text class="s" font-size="11.3" letter-spacing=".05" text-anchor="end" x="52.6" y="287.5">8000</text>
<text class="s" font-size="11.3" letter-spacing=".05" text-anchor="end" x="52.6" y="261.6">10000</text>
<text class="s" font-size="11.3" letter-spacing=".05" text-anchor="end" x="52.6" y="235.7">12000</text>
<rect x="73.3" y="353.2" width="19.200000000000003" height="38.30000000000001" fill="#fff" stroke="#1a1a1a" stroke-width=".85"/>
<path d="M82.9 353.2V351M79.65 351h6.5" stroke="#333" stroke-width=".85" fill="none"/>
<rect x="92.5" y="353" width="18.299999999999997" height="39.0" fill="#0a0a0a" stroke="#0a0a0a" stroke-width=".6"/>
<path d="M101.65 353V352M99.15 352h5" stroke="#333" stroke-width=".85" fill="none"/>
<rect x="136.8" y="262" width="19.399999999999977" height="129.5" fill="#fff" stroke="#1a1a1a" stroke-width=".85"/>
<path d="M146.5 262V259.5M143.25 259.5h6.5" stroke="#333" stroke-width=".85" fill="none"/>
<rect x="156.2" y="352" width="17.100000000000023" height="40.0" fill="#0a0a0a" stroke="#0a0a0a" stroke-width=".6"/>
<path d="M164.75 352V351.2M162.25 351.2h5" stroke="#333" stroke-width=".85" fill="none"/>
<rect x="199.5" y="325.8" width="19.69999999999999" height="65.69999999999999" fill="#fff" stroke="#1a1a1a" stroke-width=".85"/>
<path d="M209.35 325.8V323.8M206.1 323.8h6.5" stroke="#333" stroke-width=".85" fill="none"/>
<rect x="218.7" y="349.5" width="18.100000000000023" height="42.5" fill="#0a0a0a" stroke="#0a0a0a" stroke-width=".6"/>
<path d="M227.75 349.5V347.5M224.5 347.5h6.5" stroke="#333" stroke-width=".85" fill="none"/>
<text class="s" font-size="10.8" textLength="39" lengthAdjust="spacing" x="71.9" y="405.8">medium</text>
<text class="s" font-size="10.8" textLength="22.2" lengthAdjust="spacing" x="142.8" y="405.8">HSV</text>
<text class="s" font-size="10.8" textLength="22.2" lengthAdjust="spacing" x="207.0" y="405.8">SAC</text>
<text class="s" font-size="17" x="116.6" y="190.8">IFN-<tspan style="font-weight:normal;stroke-width:.1" font-size="14.6" textLength="10.4" lengthAdjust="spacingAndGlyphs">α</tspan><tspan font-size="11" x="162" y="194.8">2</tspan></text>
<text class="s" font-size="14.4" text-anchor="middle" transform="translate(11.6 293.1) rotate(-90)">U/mL</text>
<g stroke="#858585" stroke-width="1.15" fill="none">
<path d="M331.3 224.5V393.8M328.8 391.3H518"/>
<path d="M328.8 367.47h2.5"/>
<path d="M328.8 343.64h2.5"/>
<path d="M328.8 319.81h2.5"/>
<path d="M328.8 295.99h2.5"/>
<path d="M328.8 272.16h2.5"/>
<path d="M328.8 248.33h2.5"/>
<path d="M328.8 224.50h2.5"/>
<path d="M393.53 391.3v2.5"/>
<path d="M455.77 391.3v2.5"/>
<path d="M518.00 391.3v2.5"/>
</g>
<text class="s" font-size="11.3" letter-spacing=".05" text-anchor="end" x="323.3" y="391.0">0</text>
<text class="s" font-size="11.3" letter-spacing=".05" text-anchor="end" x="323.3" y="367.2">10000</text>
<text class="s" font-size="11.3" letter-spacing=".05" text-anchor="end" x="323.3" y="343.3">20000</text>
<text class="s" font-size="11.3" letter-spacing=".05" text-anchor="end" x="323.3" y="319.5">30000</text>
<text class="s" font-size="11.3" letter-spacing=".05" text-anchor="end" x="323.3" y="295.7">40000</text>
<text class="s" font-size="11.3" letter-spacing=".05" text-anchor="end" x="323.3" y="271.9">50000</text>
<text class="s" font-size="11.3" letter-spacing=".05" text-anchor="end" x="323.3" y="248.0">60000</text>
<text class="s" font-size="11.3" letter-spacing=".05" text-anchor="end" x="323.3" y="224.2">70000</text>
<rect x="343.8" y="339.5" width="18.69999999999999" height="51.80000000000001" fill="#fff" stroke="#1a1a1a" stroke-width=".85"/>
<path d="M353.15 339.5V337.8M349.9 337.8h6.5" stroke="#333" stroke-width=".85" fill="none"/>
<rect x="362.5" y="326.3" width="18.30000000000001" height="65.5" fill="#0a0a0a" stroke="#0a0a0a" stroke-width=".6"/>
<path d="M371.65 326.3V321.3M368.4 321.3h6.5" stroke="#333" stroke-width=".85" fill="none"/>
<rect x="406.8" y="340.3" width="18.19999999999999" height="51.0" fill="#fff" stroke="#1a1a1a" stroke-width=".85"/>
<path d="M415.9 340.3V337M412.65 337h6.5" stroke="#333" stroke-width=".85" fill="none"/>
<rect x="425" y="340" width="18" height="51.80000000000001" fill="#0a0a0a" stroke="#0a0a0a" stroke-width=".6"/>
<path d="M434.0 340V339.3M431.5 339.3h5" stroke="#333" stroke-width=".85" fill="none"/>
<rect x="469.5" y="259.3" width="18.5" height="132.0" fill="#fff" stroke="#1a1a1a" stroke-width=".85"/>
<path d="M478.75 259.3V233.8M475.15 233.8h7.2" stroke="#333" stroke-width=".85" fill="none"/>
<rect x="488" y="261.8" width="18.30000000000001" height="130.0" fill="#0a0a0a" stroke="#0a0a0a" stroke-width=".6"/>
<path d="M497.15 261.8V261.2M494.65 261.2h5" stroke="#333" stroke-width=".85" fill="none"/>
<text class="s" font-size="10.8" textLength="39" lengthAdjust="spacing" x="343.5" y="405.8">medium</text>
<text class="s" font-size="10.8" textLength="22.2" lengthAdjust="spacing" x="413.9" y="405.8">HSV</text>
<text class="s" font-size="10.8" textLength="22.2" lengthAdjust="spacing" x="475.7" y="405.8">SAC</text>
<text class="s" font-size="17" x="358" y="192.5">IL-12 (p70)</text>
<text class="s" font-size="14.4" text-anchor="middle" transform="translate(267.8 289) rotate(-90)">pg/mL</text>
</svg></body></html>
